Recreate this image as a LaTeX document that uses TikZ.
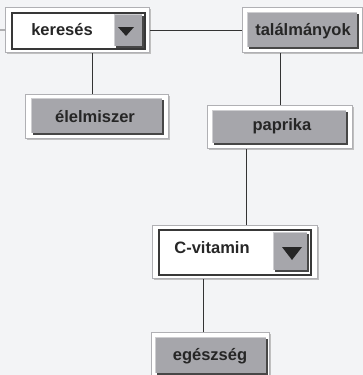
\documentclass[tikz,border=0pt]{standalone}
\usepackage{fontspec}
\setmainfont{Liberation Sans}
\usetikzlibrary{shadows}
\definecolor{bg}{HTML}{F3F4F6}
\definecolor{btn}{HTML}{A6A6AB}
\definecolor{txt}{HTML}{262626}
\definecolor{frm}{HTML}{B0B0B4}
\begin{document}
\begin{tikzpicture}[x=1pt,y=-1pt,
  frame/.style={draw=frm, fill=white, line width=0.8pt, inner sep=0pt, anchor=north west,
    general shadow={shadow xshift=1.2pt, shadow yshift=-1.2pt, fill=black!25}},
  btnbox/.style={fill=btn, draw=none, inner sep=0pt, anchor=north west,
    general shadow={shadow xshift=1.8pt, shadow yshift=-1.8pt, fill=black!72},
    path picture={\draw[line width=1.4pt, white!45!btn] (path picture bounding box.south west) -- (path picture bounding box.north west) -- (path picture bounding box.north east);}},
  field/.style={fill=white, draw=black!78, line width=1.8pt, inner sep=0pt, anchor=north west},
  lbl/.style={font=\fontsize{16.5}{18}\selectfont\bfseries, text=txt, inner sep=0pt, anchor=base},
  conn/.style={draw=black!80, line width=0.8pt},
  tri/.style={fill=black!85, draw=none}
]
\fill[bg] (0,0) rectangle (363,375);
\useasboundingbox (0,0) rectangle (363,375);

% frames
\node[frame, minimum width=144pt, minimum height=45pt] (kf) at (5,7) {};
\node[frame, minimum width=143pt, minimum height=44pt] (ef) at (25,94) {};
\node[frame, minimum width=120pt, minimum height=45pt] (tf) at (242,7) {};
\node[frame, minimum width=145pt, minimum height=43pt] (pf) at (207,105) {};
\node[frame, minimum width=165pt, minimum height=53pt] (cf) at (152,225) {};
\node[frame, minimum width=118pt, minimum height=46pt] (gf) at (151,332) {};

% connectors
\coordinate (L) at (0,30);
\draw[conn] (L) -- (kf.west);
\draw[conn] (kf.east) -- (tf.west);
\draw[conn] ([xshift=-4.5pt]ef.north) -- ([xshift=-4.5pt]ef.north |- kf.south);
\draw[conn] (pf.north) -- (pf.north |- tf.south);
\draw[conn] ([xshift=11.5pt]cf.north) -- ([xshift=11.5pt]cf.north |- pf.south);
\draw[conn] ([xshift=-7pt]gf.north) -- ([xshift=-7pt]gf.north |- cf.south);

% keresés
\node[field, minimum width=133pt, minimum height=36pt] (kfield) at (11,12) {};
\node[btnbox, minimum width=28pt, minimum height=32pt] (kb) at (114,14) {};
\fill[tri] (118,27) -- (134,27) -- (126,36) -- cycle;
\node[lbl] (kt) at (62,35.5) {keresés};

% élelmiszer
\node[btnbox, minimum width=131pt, minimum height=35pt] (eb) at (31,98) {};
\node[lbl] (et) at (95,122) {élelmiszer};

% találmányok
\node[btnbox, minimum width=110pt, minimum height=35pt] (tb) at (247,12) {};
\node[lbl] (tt) at (303,35) {találmányok};

% paprika
\node[btnbox, minimum width=134pt, minimum height=33pt] (pb) at (212,110) {};
\node[lbl] (pt) at (282,130) {paprika};

% C-vitamin
\node[field, minimum width=152pt, minimum height=45pt] (cfield) at (158,229) {};
\node[btnbox, minimum width=34pt, minimum height=38pt] (cb) at (273,232) {};
\fill[tri] (282,247) -- (302,247) -- (292,260) -- cycle;
\node[lbl] (ct) at (212,253.5) {C-vitamin};

% egészség
\node[btnbox, minimum width=111pt, minimum height=36pt] (gb) at (155,337) {};
\node[lbl] (gt) at (210,360) {egészség};
\end{tikzpicture}
\end{document}
